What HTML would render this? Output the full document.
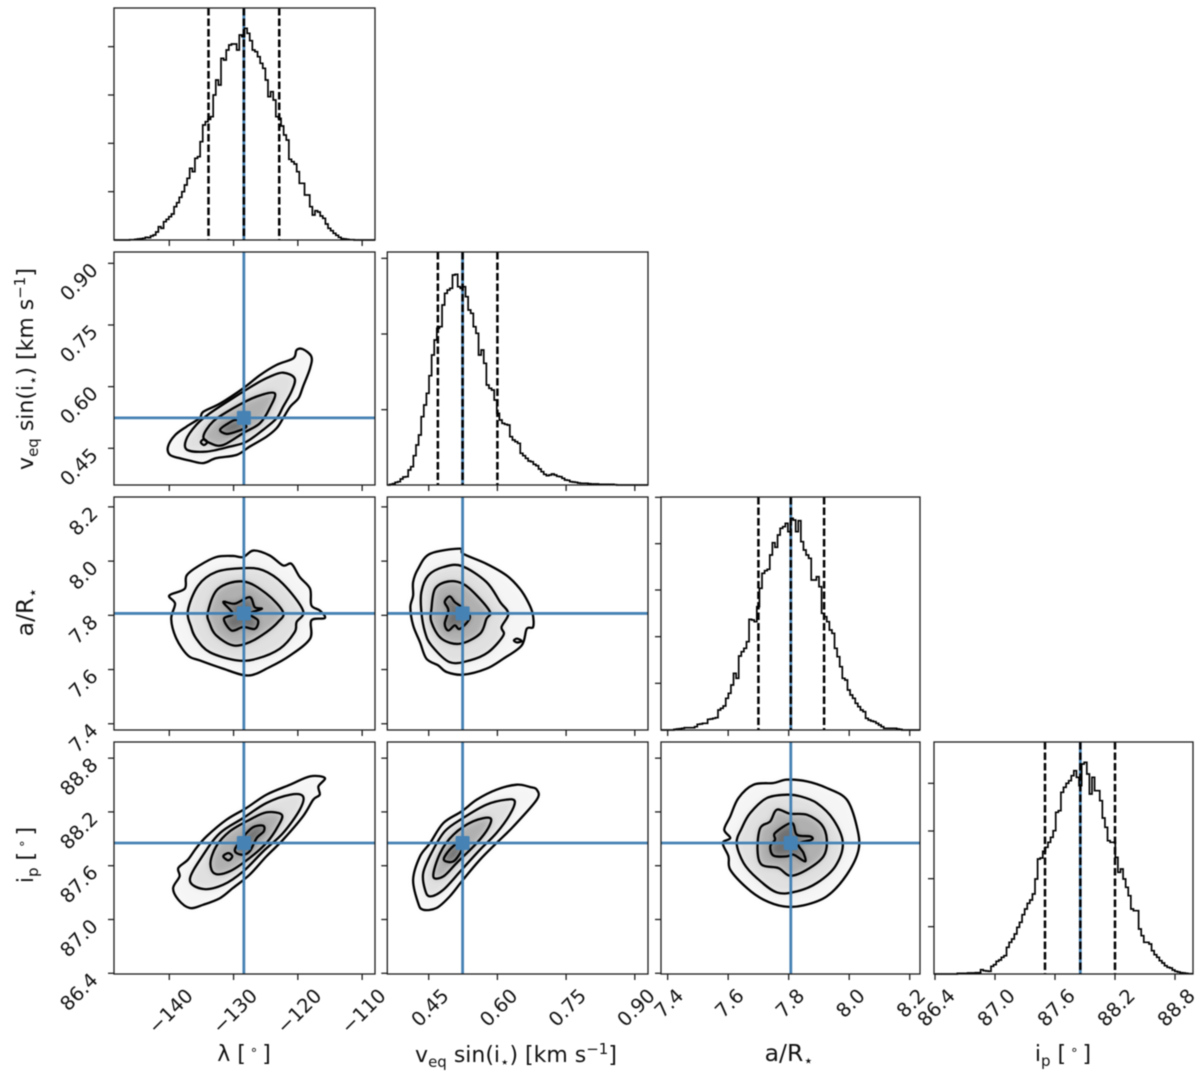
<!DOCTYPE html>
<html>
<head>
<meta charset="utf-8">
<title>Corner plot</title>
<style>
html,body{margin:0;padding:0;background:#fff;}
svg{display:block;filter:blur(0.6px);font-family:"DejaVu Sans","Liberation Sans",sans-serif;}
</style>
</head>
<body>
<svg id="corner" width="1200" height="1075" viewBox="0 0 1200 1075" xmlns="http://www.w3.org/2000/svg">
<defs><filter id="soft" x="-20%" y="-20%" width="140%" height="140%"><feGaussianBlur stdDeviation="3.5"/></filter></defs>
<rect x="0" y="0" width="1200" height="1075" fill="#fff"/>
<g id="panels"></g>
<g fill="#111" font-size="22">
<text x="244" y="1061" text-anchor="middle">λ [<tspan dy="-7" font-size="13"> ∘ </tspan><tspan dy="7">]</tspan></text>
<text x="516" y="1062" text-anchor="middle">v<tspan dy="5" font-size="15">eq</tspan><tspan dy="-5"> sin(i</tspan><tspan dy="5" font-size="15">⋆</tspan><tspan dy="-5">) [km s</tspan><tspan dy="-8" font-size="15">−1</tspan><tspan dy="8">]</tspan></text>
<text x="789" y="1061" text-anchor="middle" font-size="23.5">a/R<tspan dy="5" font-size="16">⋆</tspan></text>
<text x="1063" y="1061" text-anchor="middle">i<tspan dy="5" font-size="15">p</tspan><tspan dy="-5"> [</tspan><tspan dy="-7" font-size="13"> ∘ </tspan><tspan dy="7">]</tspan></text>
<text transform="translate(33 369) rotate(-90)" text-anchor="middle">v<tspan dy="5" font-size="15">eq</tspan><tspan dy="-5"> sin(i</tspan><tspan dy="5" font-size="15">⋆</tspan><tspan dy="-5">) [km s</tspan><tspan dy="-8" font-size="15">−1</tspan><tspan dy="8">]</tspan></text>
<text transform="translate(33 612) rotate(-90)" text-anchor="middle" font-size="23.5">a/R<tspan dy="5" font-size="16">⋆</tspan></text>
<text transform="translate(33 855) rotate(-90)" text-anchor="middle">i<tspan dy="5" font-size="15">p</tspan><tspan dy="-5"> [</tspan><tspan dy="-7" font-size="13"> ∘ </tspan><tspan dy="7">]</tspan></text>
</g>
</svg>
<script>
// ---------- tick labels and axis values ----------
const lambdaTicks = [-140, -130, -120, -110];
const velocityTicks = [0.45, 0.60, 0.75, 0.90];
const scaledAxisTicks = [7.4, 7.6, 7.8, 8.0, 8.2];
const inclinationTicks = [86.4, 87.0, 87.6, 88.2, 88.8];
const lambdaTickDigits = 0;
const velocityTickDigits = 2;
const scaledAxisTickDigits = 1;
const inclinationTickDigits = 1;

// truth value and lower/upper credible bounds per parameter
const truthValues = [-128.4, 0.524, 7.807, 87.853];
const lowerBounds = [-133.9, 0.470, 7.700, 87.50];
const upperBounds = [-122.9, 0.600, 7.917, 88.20];

// ---------- marginal histograms (counts per bin) ----------
const histLambda = [0,0,0,0,0,0,1,1,2,3,4,5,8,7,12,15,24,40,35,55,62,70,78,100,112,128,145,165,185,215,205,245,250,295,345,355,362,370,435,480,465,545,540,570,585,588,588,570,615,610,635,620,598,570,565,550,530,515,480,430,445,420,370,365,342,315,300,242,235,228,205,170,170,135,135,100,75,88,84,72,65,48,35,28,20,14,8,4,3,2,1,1,0,0,0,0,0,0,0,0];
const histVelocity = [0,2,4,8,10,18,24,25,45,55,88,120,150,205,240,275,328,390,435,470,475,540,575,585,590,630,632,595,590,595,565,525,515,475,455,390,405,365,300,290,285,255,215,195,185,182,180,145,135,130,125,95,88,80,72,70,62,58,48,40,32,28,30,33,30,26,25,20,15,14,10,9,8,6,5,5,5,4,3,3,3,2,2,2,2,2,2,1,0,0,0,0,0,0,0,0,0,0,0,0];
const histScaledAxis = [0,0,0,0,0,2,3,4,5,7,7,7,7,10,17,18,20,20,32,33,35,37,60,65,72,95,110,135,170,155,222,235,245,265,332,330,325,370,425,470,478,482,525,562,548,585,605,610,620,595,635,630,595,628,565,540,525,515,450,450,460,430,350,340,325,300,290,245,220,190,155,150,120,105,95,80,70,60,55,35,30,27,25,20,15,10,5,5,5,5,5,3,2,0,0,0,0,0,0,0];
const histInclination = [0,0,0,0,0,0,0,0,0,2,2,2,2,3,3,3,4,4,13,10,9,8,23,28,38,42,50,55,80,95,105,120,140,155,178,195,212,222,240,285,345,348,368,380,395,410,430,485,490,545,560,572,580,595,610,590,565,630,635,600,540,590,550,550,520,468,440,400,395,395,350,305,315,285,260,235,195,190,190,135,115,95,95,90,70,58,50,40,33,25,20,18,12,8,6,4,3,2,1,1];

const histTicksLambda = [145, 290, 435, 580];
const histTicksVelocity = [226, 453, 680];
const histTicksScaledAxis = [140, 280, 420, 559, 698];
const histTicksInclination = [142, 286, 429, 572];
const histTop = [696, 699, 699, 696];

// ---------- density contours in parameter units [x, y] ----------
const lvOuter = [[-120.2,.689],[-119.2,.691],[-117.9,.673],[-118.1,.645],[-119.2,.600],[-119.9,.572],[-121.2,.551],[-122.3,.523],[-123.3,.499],[-124.9,.478],[-127.5,.454],[-129.5,.434],[-132.7,.426],[-134.7,.414],[-136.8,.420],[-138.4,.426],[-139.9,.434],[-140.2,.454],[-139.1,.482],[-137.3,.503],[-135.3,.523],[-134.7,.539],[-132.1,.559],[-128.5,.596],[-125.9,.628],[-123.3,.653],[-120.7,.669]];
const lvMid = [[-122.3,.634],[-120.5,.620],[-121.0,.588],[-122.3,.551],[-123.3,.523],[-125.4,.495],[-128.0,.466],[-130.6,.454],[-134.2,.442],[-137.2,.446],[-137.4,.470],[-135.8,.507],[-133.7,.535],[-130.1,.572],[-126.4,.608],[-124.4,.624]];
const lvInner = [[-123.6,.584],[-124.4,.547],[-125.9,.511],[-128.5,.487],[-131.6,.458],[-133.4,.461],[-134.7,.478],[-133.2,.515],[-130.1,.547],[-126.4,.576]];
const lvCore = [[-129.5,.519],[-128.0,.503],[-129.5,.491],[-131.1,.485],[-132.1,.495],[-130.8,.511]];
const lvIsland = [[-135.1,.465],[-134.6,.472],[-134.1,.465],[-134.6,.458]];

const laOuter = [[-140.0,7.873],[-137.6,7.898],[-137.3,7.947],[-135.3,7.984],[-132.7,8.015],[-130.1,8.019],[-128.5,8.015],[-126.9,8.039],[-124.4,8.021],[-122.3,7.984],[-121.0,7.990],[-119.7,7.941],[-118.1,7.898],[-117.9,7.837],[-116.6,7.818],[-115.8,7.790],[-117.9,7.781],[-118.1,7.714],[-121.2,7.652],[-124.4,7.609],[-127.7,7.578],[-131.6,7.603],[-135.3,7.634],[-137.1,7.652],[-138.9,7.714],[-139.7,7.787],[-139.1,7.843]];
const laMid = [[-137.1,7.818],[-135.5,7.910],[-132.7,7.960],[-128.5,7.974],[-125.4,7.966],[-122.3,7.916],[-119.2,7.818],[-120.2,7.775],[-120.5,7.738],[-122.8,7.677],[-126.4,7.640],[-129.5,7.634],[-133.7,7.664],[-135.8,7.714],[-136.6,7.757]];
const laInner = [[-134.0,7.812],[-132.4,7.898],[-128.5,7.925],[-124.9,7.880],[-122.3,7.812],[-123.1,7.775],[-124.9,7.738],[-127.5,7.701],[-130.1,7.689],[-132.7,7.726],[-133.7,7.769]];
const laCore = [[-131.6,7.849],[-129.8,7.843],[-127.5,7.867],[-126.7,7.830],[-125.6,7.824],[-127.5,7.806],[-126.2,7.781],[-126.7,7.750],[-128.5,7.757],[-130.3,7.744],[-131.5,7.787],[-130.1,7.806]];

const vaOuter = [[.518,8.046],[.453,8.027],[.427,7.972],[.416,7.923],[.416,7.873],[.410,7.830],[.416,7.763],[.431,7.701],[.445,7.640],[.471,7.615],[.489,7.591],[.525,7.581],[.576,7.603],[.613,7.640],[.653,7.689],[.664,7.750],[.678,7.757],[.677,7.806],[.667,7.849],[.649,7.898],[.620,7.947],[.576,7.990],[.525,8.027]];
const vaMid = [[.522,7.982],[.482,7.978],[.449,7.947],[.434,7.886],[.434,7.812],[.442,7.738],[.456,7.689],[.496,7.627],[.540,7.634],[.580,7.664],[.613,7.726],[.609,7.757],[.624,7.806],[.606,7.849],[.576,7.923]];
const vaInner = [[.493,7.925],[.464,7.898],[.456,7.824],[.456,7.775],[.478,7.714],[.518,7.695],[.562,7.732],[.576,7.787],[.584,7.812],[.555,7.873],[.525,7.916]];
const vaCore = [[.496,7.870],[.485,7.849],[.493,7.818],[.485,7.769],[.493,7.744],[.507,7.763],[.518,7.750],[.540,7.793],[.522,7.830],[.507,7.849]];
const vaIsland = [[.636,7.707],[.643,7.714],[.653,7.705],[.643,7.700]];

const liOuter = [[-115.8,88.578],[-118.1,88.597],[-121.2,88.504],[-124.9,88.392],[-128.0,88.244],[-131.1,88.113],[-134.2,87.927],[-135.8,87.797],[-137.1,87.667],[-138.6,87.574],[-138.4,87.481],[-139.4,87.351],[-138.6,87.221],[-136.8,87.128],[-134.7,87.165],[-132.1,87.239],[-130.1,87.351],[-127.5,87.500],[-124.9,87.704],[-122.3,87.890],[-119.2,88.151],[-117.6,88.337],[-116.6,88.392],[-116.8,88.485]];
const liMid = [[-119.2,88.374],[-121.2,88.392],[-124.9,88.299],[-128.5,88.132],[-132.1,87.965],[-134.7,87.723],[-136.8,87.444],[-134.7,87.340],[-131.6,87.388],[-128.5,87.537],[-125.4,87.760],[-122.3,87.965],[-119.7,88.225]];
const liInner = [[-122.5,88.169],[-124.9,88.195],[-127.5,88.113],[-130.6,87.983],[-132.7,87.816],[-133.6,87.630],[-132.9,87.511],[-130.6,87.537],[-127.5,87.686],[-124.9,87.853],[-123.1,88.039]];
const liCore = [[-125.4,88.046],[-126.9,88.032],[-128.2,87.946],[-129.8,87.779],[-128.8,87.723],[-127.5,87.760],[-126.4,87.909],[-125.3,87.983]];
const liIsland = [[-131.6,87.704],[-130.8,87.741],[-130.2,87.704],[-130.8,87.660]];

const viOuter = [[.686,88.448],[.671,88.478],[.642,88.504],[.598,88.448],[.555,88.337],[.522,88.206],[.482,88.076],[.453,87.853],[.431,87.704],[.416,87.444],[.427,87.183],[.438,87.109],[.467,87.128],[.496,87.258],[.525,87.444],[.562,87.667],[.598,87.853],[.635,88.039],[.686,88.337]];
const viMid = [[.638,88.318],[.620,88.337],[.576,88.281],[.525,88.132],[.485,87.983],[.456,87.741],[.438,87.518],[.442,87.332],[.453,87.258],[.482,87.332],[.522,87.555],[.562,87.779],[.598,87.965],[.627,88.169]];
const viInner = [[.584,88.132],[.547,88.095],[.504,87.946],[.475,87.741],[.460,87.481],[.482,87.481],[.511,87.630],[.555,87.853],[.580,88.020]];
const viCore = [[.515,87.853],[.496,87.779],[.483,87.667],[.504,87.648],[.522,87.779]];

const aiOuter = [[7.860,88.541],[7.794,88.560],[7.750,88.523],[7.684,88.504],[7.634,88.355],[7.607,88.151],[7.587,88.002],[7.607,87.909],[7.582,87.853],[7.601,87.704],[7.607,87.555],[7.662,87.351],[7.717,87.221],[7.783,87.146],[7.849,87.157],[7.926,87.258],[7.992,87.500],[8.031,87.779],[8.025,88.039],[7.992,88.337],[7.926,88.467]];
const aiMid = [[7.794,88.392],[7.728,88.355],[7.673,88.188],[7.645,88.020],[7.628,87.853],[7.651,87.630],[7.695,87.462],[7.761,87.302],[7.827,87.314],[7.893,87.407],[7.954,87.593],[7.979,87.853],[7.948,88.113],[7.893,88.299],[7.838,88.374]];
const aiInner = [[7.805,88.180],[7.761,88.225],[7.739,88.095],[7.706,88.020],[7.697,87.779],[7.711,87.611],[7.766,87.574],[7.805,87.488],[7.860,87.555],[7.915,87.704],[7.926,87.890],[7.909,88.058],[7.860,88.169]];
const aiCore = [[7.810,88.076],[7.755,87.965],[7.755,87.890],[7.739,87.816],[7.750,87.712],[7.794,87.704],[7.816,87.723],[7.854,87.648],[7.849,87.741],[7.832,87.846],[7.876,87.890],[7.871,87.927],[7.827,87.946]];

// ---------- axis functions ----------
const colFrames = [[114,375],[387.3,648],[661,920],[934,1193]];
const rowFrames = [[8,240],[252,485],[497,730],[742,974]];
const colLimits = [[-148.6,-108],[0.3596,0.9288],[7.378,8.234],[86.39,88.98]];
const rowLimits = [null,[0.3607,0.9276],[7.377,8.2365],[86.392,88.98]];
const paramTicks = [lambdaTicks, velocityTicks, scaledAxisTicks, inclinationTicks];
const paramDigits = [lambdaTickDigits, velocityTickDigits, scaledAxisTickDigits, inclinationTickDigits];
const paramKeys = ['lambda','velocity','scaled-axis','inclination'];
const hists = [histLambda, histVelocity, histScaledAxis, histInclination];
const histTicks = [histTicksLambda, histTicksVelocity, histTicksScaledAxis, histTicksInclination];

function xScale(col, v){
  const f = colFrames[col], l = colLimits[col];
  return f[0] + (v - l[0]) / (l[1] - l[0]) * (f[1] - f[0]);
}
function yScale(row, v){
  const f = rowFrames[row], l = rowLimits[row];
  return f[1] - (v - l[0]) / (l[1] - l[0]) * (f[1] - f[0]);
}
function yHist(row, c){
  const f = rowFrames[row];
  return f[1] - c / histTop[row] * (f[1] - f[0]);
}

const SVGNS = 'http://www.w3.org/2000/svg';
const root = document.getElementById('panels');
function mk(tag, attrs, parent){
  const el = document.createElementNS(SVGNS, tag);
  for (const k in attrs) el.setAttribute(k, attrs[k]);
  (parent || root).appendChild(el);
  return el;
}
function closedPath(points){
  const n = points.length;
  let d = 'M' + points[0][0].toFixed(2) + ' ' + points[0][1].toFixed(2);
  for (let i = 0; i < n; i++){
    const p0 = points[(i - 1 + n) % n], p1 = points[i], p2 = points[(i + 1) % n], p3 = points[(i + 2) % n];
    const c1x = p1[0] + (p2[0] - p0[0]) / 6, c1y = p1[1] + (p2[1] - p0[1]) / 6;
    const c2x = p2[0] - (p3[0] - p1[0]) / 6, c2y = p2[1] - (p3[1] - p1[1]) / 6;
    d += 'C' + c1x.toFixed(2) + ' ' + c1y.toFixed(2) + ' ' + c2x.toFixed(2) + ' ' + c2y.toFixed(2) + ' ' + p2[0].toFixed(2) + ' ' + p2[1].toFixed(2);
  }
  return d + 'Z';
}
function tickLabel(param, v){
  return v.toFixed(paramDigits[param]).replace('-', '\u2212');
}

function drawFrameAndTicks(row, col, yTickValues, yFn, group){
  const fx = colFrames[col], fy = rowFrames[row];
  const frame = mk('rect', {x:fx[0], y:fy[0], width:fx[1]-fx[0], height:fy[1]-fy[0], fill:'none', stroke:'#1c1c1c', 'stroke-width':1.3}, group);
  
  
  paramTicks[col].forEach(v => {
    const x = xScale(col, v);
    const t = mk('line', {x1:x, x2:x, y1:fy[1], y2:fy[1]+6, stroke:'#1c1c1c', 'stroke-width':1.3}, group);
    
    
  });
  yTickValues.forEach(v => {
    const y = yFn(row, v);
    const t = mk('line', {x1:fx[0]-6, x2:fx[0], y1:y, y2:y, stroke:'#1c1c1c', 'stroke-width':1.3}, group);
    
    
  });
}

function drawHist(i){
  const g = mk('g', {});
  
  
  const lim = colLimits[i], counts = hists[i], bins = counts.length;
  const base = rowFrames[i][1], top = rowFrames[i][0];
  const truthX = xScale(i, truthValues[i]);
  const truth = mk('line', {x1:truthX, x2:truthX, y1:top, y2:base, stroke:'#4682b4', 'stroke-width':2.8}, g);
  
  
  let d = 'M' + xScale(i, lim[0]).toFixed(2) + ' ' + base;
  counts.forEach((c, b) => {
    const x0 = xScale(i, lim[0] + (lim[1] - lim[0]) * b / bins);
    const x1 = xScale(i, lim[0] + (lim[1] - lim[0]) * (b + 1) / bins);
    const y = yHist(i, c);
    d += 'L' + x0.toFixed(2) + ' ' + y.toFixed(2) + 'L' + x1.toFixed(2) + ' ' + y.toFixed(2);
  });
  const step = mk('path', {d:d, fill:'none', stroke:'#000', 'stroke-width':1.7, 'stroke-linejoin':'miter'}, g);
  
  
  [lowerBounds[i], truthValues[i], upperBounds[i]].forEach((v, k) => {
    const x = xScale(i, v);
    const q = mk('line', {x1:x, x2:x, y1:top, y2:base, stroke:'#000', 'stroke-width':2.5, 'stroke-dasharray':'7.5 3'}, g);
    
    
  });
  drawFrameAndTicks(i, i, histTicks[i], yHist, g);
}

const fillShades = ['#f5f5f5','#e0e0e0','#b0b0b0','#707070'];
function drawJoint(row, col, levels, islands){
  const g = mk('g', {});
  
  
  const project = pts => pts.map(p => [xScale(col, p[0]), yScale(row, p[1])]);
  const shade = mk('g', {filter:'url(#soft)'}, g);
  
  
  levels.forEach((lvl, k) => {
    const s = mk('path', {d:closedPath(project(lvl)), fill:fillShades[k]}, shade);
    
    
  });
  levels.concat(islands).forEach((lvl, k) => {
    const c = mk('path', {d:closedPath(project(lvl)), fill:'none', stroke:'#000', 'stroke-width':2.3, 'stroke-linejoin':'round'}, g);
    
    
  });
  const fx = colFrames[col], fy = rowFrames[row];
  const tx = xScale(col, truthValues[col]), ty = yScale(row, truthValues[row]);
  const v = mk('line', {x1:tx, x2:tx, y1:fy[0], y2:fy[1], stroke:'#4682b4', 'stroke-width':2.8}, g);
  
  
  const h = mk('line', {x1:fx[0], x2:fx[1], y1:ty, y2:ty, stroke:'#4682b4', 'stroke-width':2.8}, g);
  
  
  const m = mk('rect', {x:tx-7, y:ty-7, width:14, height:14, rx:1.5, fill:'#4682b4'}, g);
  
  
  drawFrameAndTicks(row, col, paramTicks[row], yScale, g);
}

[0,1,2,3].forEach(drawHist);
drawJoint(1, 0, [lvOuter, lvMid, lvInner, lvCore], [lvIsland]);
drawJoint(2, 0, [laOuter, laMid, laInner, laCore], []);
drawJoint(2, 1, [vaOuter, vaMid, vaInner, vaCore], [vaIsland]);
drawJoint(3, 0, [liOuter, liMid, liInner, liCore], [liIsland]);
drawJoint(3, 1, [viOuter, viMid, viInner, viCore], []);
drawJoint(3, 2, [aiOuter, aiMid, aiInner, aiCore], []);

// tick labels along the bottom row (rotated 45 degrees, centred under tick)
[0,1,2,3].forEach(col => {
  paramTicks[col].forEach(v => {
    const x = xScale(col, v);
    const t = mk('text', {'text-anchor':'middle', 'font-size':19.5, fill:'#111', dy:'0.36em'});
    
    
    t.textContent = tickLabel(col, v);
    const w = t.getComputedTextLength();
    const box = (w + 14.2) * Math.SQRT1_2;
    t.setAttribute('transform', `translate(${(x + 1).toFixed(2)} ${(987 + box / 2).toFixed(2)}) rotate(-45)`);
  });
});
// tick labels on the left column (rotated 45 degrees, right aligned)
[1,2,3].forEach(row => {
  paramTicks[row].forEach(v => {
    const y = yScale(row, v);
    const t = mk('text', {'text-anchor':'end', 'font-size':19.5, fill:'#111', transform:`translate(99 ${(y + 8).toFixed(2)}) rotate(-45)`});
    
    
    t.textContent = tickLabel(row, v);
  });
});
</script>
</body>
</html>
